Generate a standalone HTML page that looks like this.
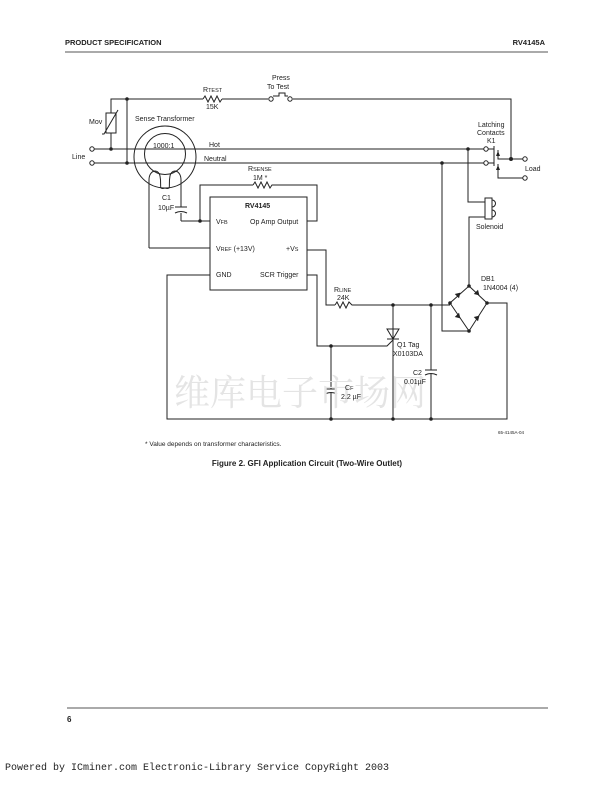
<!DOCTYPE html>
<html><head><meta charset="utf-8"><style>
html,body{margin:0;padding:0;background:#fff}
svg{display:block}
text{font-family:"Liberation Sans",sans-serif;fill:#222}
</style></head><body>
<svg width="614" height="792" viewBox="0 0 614 792" xmlns="http://www.w3.org/2000/svg">
<g font-size="7">
<text x="65" y="45" font-weight="bold" font-size="7.5">PRODUCT SPECIFICATION</text>
<text x="545" y="45" font-weight="bold" font-size="7.5" text-anchor="end">RV4145A</text>
</g>
<line x1="65" y1="52" x2="548" y2="52" stroke="#555" stroke-width="1"/>

<g stroke="#222" stroke-width="1" fill="none">
<polyline points="111,113 111,99 203,99"/>
<polyline points="222,99 268,99"/>
<polyline points="293,99 511,99 511,159 525,159"/>
<polyline points="203,99 205,96 208,102 211,96 214,102 217,96 220,102 222,99"/>
<circle cx="271" cy="99" r="2.2" fill="#fff"/>
<circle cx="290" cy="99" r="2.2" fill="#fff"/>
<polyline points="273,96 279,96 279,93 285,93 285,96 288,96"/>
<rect x="106" y="113" width="10" height="20"/>
<polyline points="102,134 104,134 118,110"/>
<line x1="111" y1="133" x2="111" y2="149"/>
<line x1="127" y1="99" x2="127" y2="163"/>
<line x1="94" y1="149" x2="484" y2="149"/>
<line x1="94" y1="163" x2="484" y2="163"/>
<circle cx="92" cy="149" r="2.2" fill="#fff"/>
<circle cx="92" cy="163" r="2.2" fill="#fff"/>
<circle cx="486" cy="149" r="2.2" fill="#fff"/>
<circle cx="486" cy="163" r="2.2" fill="#fff"/>
<circle cx="165" cy="157" r="31"/>
<circle cx="165" cy="154" r="20.5"/>
<path d="M149,248 L149,180 C149,170 158,168 160,176 C162,186 158,190 165,188 C172,190 168,186 170,176 C172,168 181,170 181,180 L181,207"/>
<line x1="181" y1="213" x2="181" y2="221"/>
<line x1="175" y1="207" x2="187" y2="207"/>
<path d="M175,213 Q181,210 187,213"/>
<polyline points="181,221 210,221"/>
<polyline points="149,248 210,248"/>
<polyline points="200,221 200,185 253,185"/>
<polyline points="253,185 255,182 258,188 261,182 264,188 267,182 270,188 272,185 317,185 317,221 307,221"/>
<rect x="210" y="197" width="97" height="93"/>
<polyline points="307,250 326,250 326,305 335,305"/>
<polyline points="335,305 337,302 340,308 343,302 346,308 349,302 352,305 450,305"/>
<polyline points="307,275 317,275 317,346 387,346 393,340"/>
<polyline points="210,275 167,275 167,419 507,419 507,303 487,303"/>
<line x1="393" y1="305" x2="393" y2="419"/>
<polygon points="387,329 399,329 393,339"/>
<line x1="387" y1="339" x2="399" y2="339"/>
<line x1="331" y1="346" x2="331" y2="389"/>
<line x1="331" y1="393" x2="331" y2="419"/>
<line x1="325" y1="389" x2="337" y2="389"/>
<path d="M325,394 Q331,391 337,394"/>
<line x1="431" y1="305" x2="431" y2="370"/>
<line x1="431" y1="374" x2="431" y2="419"/>
<line x1="425" y1="370" x2="437" y2="370"/>
<path d="M425,375 Q431,372 437,375"/>
<polyline points="442,163 442,331 469,331"/>
<polyline points="468,149 468,202 485,202"/>
<polyline points="485,217 469,217 469,286"/>
<rect x="485" y="198" width="7" height="21"/>
<path d="M492,200 a3,3 0 0 1 0,7 M492,210 a3,3 0 0 1 0,7"/>
<polygon points="469,286 487,303 469,331 450,303"/>
<polyline points="494,146 494,166"/>
<line x1="488" y1="149" x2="494" y2="149"/>
<line x1="488" y1="163" x2="494" y2="163"/>
<polyline points="498,150 498,159 511,159"/>
<polyline points="498,164 498,178 523,178"/>
<circle cx="525" cy="159" r="2.2" fill="#fff"/>
<circle cx="525" cy="178" r="2.2" fill="#fff"/>
</g>
<g fill="#222">
<polygon points="496,156 500,156 498,151"/>
<polygon points="496,170 500,170 498,165"/>
<g transform="translate(459,294) rotate(-45)"><polygon points="-3,-3 -3,3 2,0"/></g>
<g transform="translate(478,294) rotate(45)"><polygon points="-3,-3 -3,3 2,0"/></g>
<g transform="translate(459,317) rotate(45)"><polygon points="-3,-3 -3,3 2,0"/></g>
<g transform="translate(478,317) rotate(-45)"><polygon points="-3,-3 -3,3 2,0"/></g>
<circle cx="127" cy="99" r="1.8"/><circle cx="111" cy="149" r="1.8"/><circle cx="127" cy="163" r="1.8"/>
<circle cx="200" cy="221" r="1.8"/><circle cx="468" cy="149" r="1.8"/><circle cx="442" cy="163" r="1.8"/>
<circle cx="511" cy="159" r="2"/><circle cx="393" cy="305" r="1.8"/><circle cx="431" cy="305" r="1.8"/>
<circle cx="331" cy="346" r="1.8"/><circle cx="331" cy="419" r="1.8"/><circle cx="393" cy="419" r="1.8"/>
<circle cx="431" cy="419" r="1.8"/><circle cx="469" cy="286" r="1.8"/><circle cx="469" cy="331" r="1.8"/>
<circle cx="450" cy="303" r="1.8"/><circle cx="487" cy="303" r="1.8"/>
</g>
<text x="300" y="405" font-size="36" text-anchor="middle" style="fill:#e4e4e4;font-family:'Noto Serif CJK SC',serif">维库电子市场网</text>
<g font-size="7">
<text x="203" y="92">R<tspan font-size="5.5">TEST</tspan></text>
<text x="206" y="109">15K</text>
<text x="272" y="80">Press</text>
<text x="267" y="89">To Test</text>
<text x="89" y="124">Mov</text>
<text x="135" y="121">Sense Transformer</text>
<text x="72" y="159">Line</text>
<text x="153" y="148">1000:1</text>
<text x="209" y="147">Hot</text>
<text x="204" y="161">Neutral</text>
<text x="248" y="171">R<tspan font-size="5.5">SENSE</tspan></text>
<text x="253" y="180">1M *</text>
<text x="162" y="200">C1</text>
<text x="158" y="210">10µF</text>
<text x="245" y="208" font-weight="bold">RV4145</text>
<text x="216" y="224">V<tspan font-size="5.5">FB</tspan></text>
<text x="250" y="224">Op Amp Output</text>
<text x="216" y="251">V<tspan font-size="5.5">REF</tspan> (+13V)</text>
<text x="286" y="251">+V<tspan font-size="5.5">S</tspan></text>
<text x="216" y="277">GND</text>
<text x="260" y="277">SCR Trigger</text>
<text x="334" y="292">R<tspan font-size="5.5">LINE</tspan></text>
<text x="337" y="300">24K</text>
<text x="397" y="347">Q1 Tag</text>
<text x="393" y="356">X0103DA</text>
<text x="413" y="375">C2</text>
<text x="404" y="384">0.01µF</text>
<text x="345" y="390">C<tspan font-size="5.5">F</tspan></text>
<text x="341" y="399">2.2 µF</text>
<text x="481" y="281">DB1</text>
<text x="483" y="290">1N4004 (4)</text>
<text x="478" y="127">Latching</text>
<text x="477" y="135">Contacts</text>
<text x="487" y="143">K1</text>
<text x="525" y="171">Load</text>
<text x="476" y="229">Solenoid</text>
<text x="498" y="434" font-size="4.5">65-4145A-04</text>
<text x="145" y="446" font-size="6.5">* Value depends on transformer characteristics.</text>
<text x="307" y="466" font-size="8" font-weight="bold" text-anchor="middle">Figure 2. GFI Application Circuit (Two-Wire Outlet)</text>
</g>
<line x1="67" y1="708" x2="548" y2="708" stroke="#555" stroke-width="1"/>
<text x="67" y="722" font-size="8" font-weight="bold">6</text>
<text x="5" y="770" font-size="10" style="font-family:'Liberation Mono',monospace">Powered by ICminer.com Electronic-Library Service CopyRight 2003</text>
</svg>
</body></html>
